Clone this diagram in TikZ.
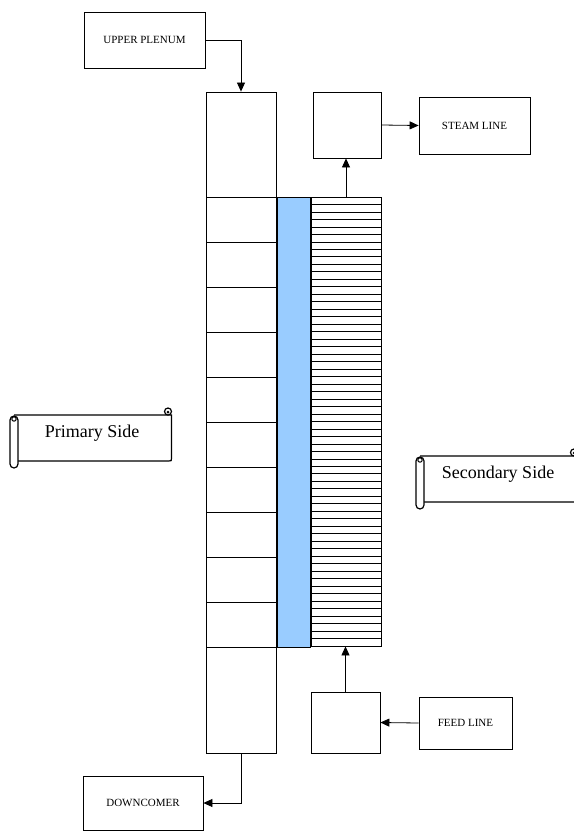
\documentclass[tikz,border=0pt]{standalone}
\usepackage{fontspec}
\setmainfont{Liberation Serif}
\usetikzlibrary{arrows.meta}
\definecolor{wallblue}{RGB}{153,204,255}
\begin{document}
\begin{tikzpicture}[x=1pt, y=-1pt,
    box/.style={draw, line width=0.8pt, inner sep=0pt, font=\fontsize{11}{13}\selectfont},
    flow/.style={line width=0.8pt, -{Triangle[length=9pt,width=8pt]}},
    roll/.style={draw, line width=1.2pt, fill=white}]
    \useasboundingbox (0,0) rectangle (573,832);
    % primary column, wall and secondary column
    \node[box, minimum width=70, minimum height=661] (prim) at (241,422.5) {};
    \node[box, fill=wallblue, minimum width=33, minimum height=450] (wall) at (293.5,422) {};
    \node[box, minimum width=70, minimum height=449] (sec) at (346,421.5) {};
    \foreach \i in {0,...,10}{
        \draw[line width=0.8pt] (206,{197+45*\i})--(276,{197+45*\i});
    }
    \def\n{60}
    \foreach \i in {1,...,59}{
        % tube bundle lines
        \draw[line width=0.8pt] (311,{197+\i*(449/\n)})--(381,{197+\i*(449/\n)});
    }
    % boxes round it
    \node[box, minimum width=121, minimum height=56] (plenum) at (144.5,40) {UPPER PLENUM};
    \node[box, minimum width=68, minimum height=66] (dome) at (347,125) {};
    \node[box, minimum width=111, minimum height=57] (steam) at (474.5,125.5) {STEAM LINE};
    \node[box, minimum width=69, minimum height=61] (feed) at (345.5,722.5) {};
    \node[box, minimum width=93, minimum height=52] (feedline) at (465.5,723) {FEED LINE};
    \node[box, minimum width=120, minimum height=54] (down) at (143,803) {DOWNCOMER};
    % flows
    \draw[flow] (plenum.east) -| (prim.north);
    \draw[flow] (sec.north) -- (sec.north |- dome.south);
    \draw[flow] (dome.east) -- (steam.west);
    \draw[flow] (feedline.west) -- (feed.east);
    \draw[flow] (feed.north) -- (feed.north |- sec.south);
    \draw[flow] (prim.south) |- (down.east);
    % the two scrolls
    \foreach \px/\py/\nm/\txt in {10/407/primtxt/Primary Side, 416/448/sectxt/Secondary Side}{
        \begin{scope}[shift={(\px,\py)}]
            \draw[roll] (4,8) -- (161.5,8) -- (161.5,51) .. controls (161.5,54) .. (158.5,54) -- (4,54);
            \draw[roll, rounded corners=4] (0,9) rectangle (8,61);
            \draw[line width=1pt] (4,12) circle (2.2);
            \draw[roll] (158,4.5) circle (3.5);
            \fill (158,5) circle (1.5);
            \node[font=\fontsize{18}{20}\selectfont] (\nm) at (82,26.5) {\txt};
        \end{scope}
    }
\end{tikzpicture}
\end{document}
